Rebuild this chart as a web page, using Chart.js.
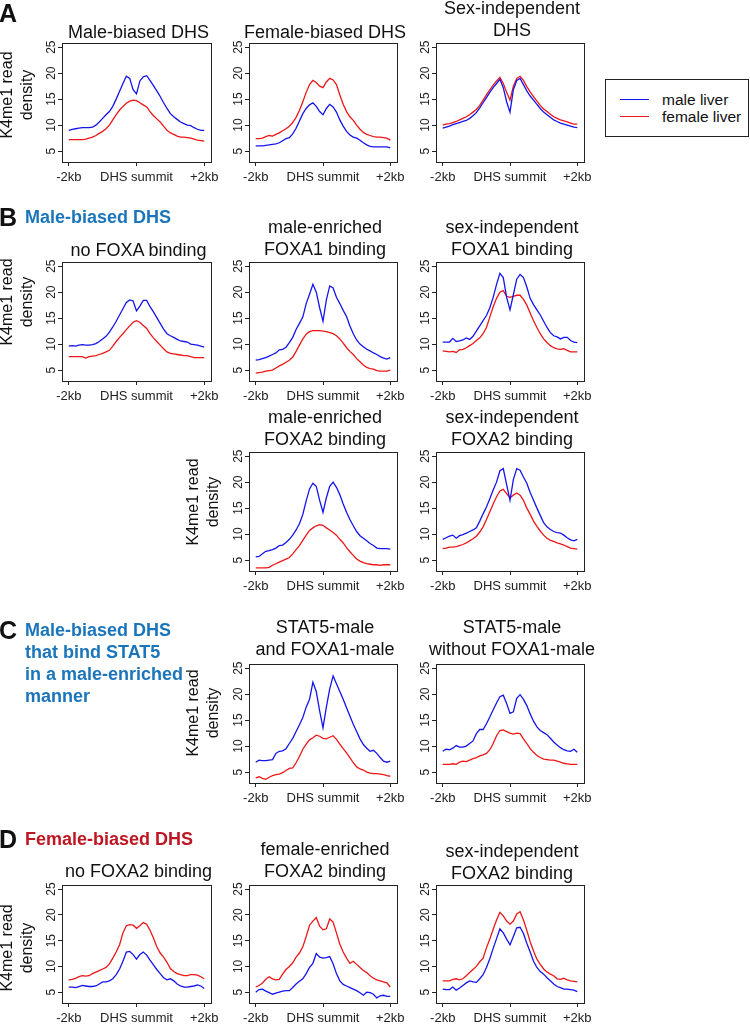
<!DOCTYPE html>
<html>
<head>
<meta charset="utf-8">
<title>K4me1 read density around DHS summits</title>
<script src="https://cdn.jsdelivr.net/npm/chart.js@4.4.1/dist/chart.umd.min.js"></script>
<style>
  html, body { margin: 0; padding: 0; background: #fff; overflow: hidden; }
  body { width: 750px; height: 1026px; position: relative; font-family: "Liberation Sans", Arial, sans-serif; color: #111; }
  .abs { position: absolute; white-space: nowrap; }
  .letter { font-weight: bold; font-size: 25px; line-height: 28px; }
  .head { font-weight: bold; font-size: 18px; line-height: 22px; }
  .ttl { font-size: 18px; line-height: 22px; text-align: center; }
  .ylab { font-size: 16px; line-height: 20px; text-align: center; transform: rotate(-90deg); }
  .legend { border: 1px solid #222; box-sizing: border-box; }
  .legtxt { font-size: 15.5px; line-height: 18px; }
  canvas { position: absolute; }
</style>
</head>
<body>
<script>
// bins around the DHS summit (bp)
const binPositions = [-2000, -1900, -1800, -1700, -1600, -1500, -1400, -1300, -1200, -1100,
  -1000, -900, -800, -700, -600, -500, -400, -300, -200, -100,
  0, 100, 200, 300, 400, 500, 600, 700, 800, 900,
  1000, 1100, 1200, 1300, 1400, 1500, 1600, 1700, 1800, 1900, 2000]
const xTickValues = [-2000, 0, 2000]
const xTickLabels = ["-2kb", "DHS summit", "+2kb"]
const yTickValues = [5, 10, 15, 20, 25]
const seriesNames = ["male liver", "female liver"]

// A: all DHS classes
const maleA1 = [9.0, 9.2, 9.3, 9.4, 9.5, 9.5, 9.5, 9.6, 10.0, 10.6, 11.3, 12.0, 12.6, 13.6, 15.0, 16.5, 18.0, 19.4, 19.0, 16.8, 16.0, 18.5, 19.3, 19.5, 18.6, 17.6, 16.6, 15.5, 14.3, 13.2, 12.2, 11.6, 11.1, 10.6, 10.3, 10.0, 9.9, 9.5, 9.2, 9.0, 9.0]
const femaleA1 = [7.2, 7.2, 7.2, 7.2, 7.2, 7.3, 7.5, 7.7, 8.0, 8.4, 8.8, 9.3, 10.0, 11.0, 12.0, 12.9, 13.6, 14.2, 14.6, 14.8, 14.7, 14.3, 13.9, 13.5, 12.6, 11.8, 11.2, 10.6, 9.8, 9.0, 8.5, 8.2, 7.9, 7.7, 7.7, 7.6, 7.5, 7.3, 7.1, 7.0, 6.9]
const maleA2 = [6.0, 6.0, 6.0, 6.1, 6.2, 6.3, 6.4, 6.6, 7.0, 7.4, 7.6, 8.3, 9.4, 10.8, 12.2, 13.2, 13.9, 14.3, 13.6, 12.6, 12.0, 13.2, 14.0, 13.5, 12.5, 11.0, 9.8, 8.8, 8.1, 7.7, 7.5, 7.1, 6.6, 6.2, 5.9, 5.8, 5.8, 5.8, 5.8, 5.8, 5.6]
const femaleA2 = [7.4, 7.4, 7.5, 7.8, 8.0, 7.9, 8.2, 8.5, 8.9, 9.3, 9.8, 10.5, 11.5, 12.8, 14.5, 16.3, 17.8, 18.6, 18.2, 17.5, 17.2, 18.3, 19.0, 18.7, 17.8, 15.8, 14.0, 12.6, 11.6, 10.9, 10.0, 9.2, 8.6, 8.2, 8.0, 7.8, 7.7, 7.7, 7.6, 7.5, 7.1]
const maleA3 = [9.4, 9.6, 9.8, 10.1, 10.3, 10.5, 10.7, 10.9, 11.3, 11.8, 12.4, 13.3, 14.3, 15.3, 16.3, 17.2, 18.0, 18.8, 17.2, 14.5, 12.5, 16.8, 18.6, 19.0, 17.8, 16.6, 15.6, 14.8, 14.0, 13.2, 12.5, 12.0, 11.5, 11.0, 10.7, 10.4, 10.2, 10.0, 9.8, 9.6, 9.5]
const femaleA3 = [10.0, 10.2, 10.3, 10.5, 10.7, 11.0, 11.3, 11.6, 12.0, 12.5, 13.0, 13.8, 14.8, 15.8, 16.8, 17.7, 18.5, 19.2, 18.0, 16.3, 14.8, 17.5, 19.0, 19.4, 18.6, 17.4, 16.4, 15.5, 14.6, 13.8, 13.1, 12.6, 12.1, 11.6, 11.3, 11.0, 10.8, 10.6, 10.4, 10.2, 10.2]

// B: male-biased DHS, FOXA1 / FOXA2 binding
const maleB1 = [9.6, 9.7, 9.6, 9.8, 9.9, 9.8, 9.8, 9.9, 10.1, 10.5, 11.0, 11.5, 12.3, 13.3, 14.4, 15.6, 16.8, 18.0, 18.5, 18.3, 16.4, 17.3, 18.4, 18.4, 17.2, 16.2, 15.1, 14.0, 12.9, 12.0, 11.6, 11.3, 10.9, 10.6, 10.5, 10.4, 10.0, 9.9, 9.8, 9.6, 9.4]
const femaleB1 = [7.6, 7.6, 7.6, 7.6, 7.6, 7.3, 7.6, 7.7, 7.8, 8.0, 8.2, 8.5, 8.8, 9.6, 10.5, 11.3, 12.0, 12.8, 13.5, 14.2, 14.5, 14.2, 13.6, 13.0, 12.0, 11.2, 10.5, 9.8, 9.1, 8.5, 8.2, 8.1, 8.0, 7.9, 7.8, 7.8, 7.6, 7.4, 7.4, 7.4, 7.4]
const maleB2 = [6.9, 7.0, 7.2, 7.4, 7.7, 8.0, 8.3, 8.9, 9.0, 9.4, 10.3, 11.3, 12.8, 14.0, 15.2, 17.8, 19.6, 21.5, 20.0, 17.0, 14.4, 18.5, 21.2, 20.8, 19.0, 17.8, 16.5, 15.3, 13.5, 12.0, 10.8, 10.0, 9.5, 9.0, 8.7, 8.3, 8.0, 7.6, 7.3, 7.1, 7.4]
const femaleB2 = [4.4, 4.5, 4.6, 4.8, 4.9, 5.0, 5.4, 5.8, 6.1, 6.5, 6.9, 7.5, 8.6, 9.8, 11.0, 11.9, 12.4, 12.6, 12.6, 12.6, 12.5, 12.4, 12.2, 12.0, 11.6, 11.0, 10.2, 9.3, 8.6, 8.0, 7.2, 6.6, 6.0, 5.5, 5.3, 5.2, 4.9, 4.8, 4.8, 4.8, 5.0]
const maleB3 = [10.4, 10.4, 10.4, 11.1, 10.5, 10.6, 10.8, 11.2, 10.9, 11.5, 12.5, 13.5, 14.5, 15.5, 17.0, 19.0, 21.5, 23.6, 22.8, 19.0, 16.6, 19.5, 22.5, 23.4, 22.8, 21.0, 18.8, 17.6, 16.6, 15.6, 14.4, 13.2, 12.2, 11.6, 11.4, 11.0, 11.3, 11.3, 10.7, 10.4, 10.3]
const femaleB3 = [8.7, 8.6, 8.5, 8.6, 8.4, 8.9, 9.0, 9.3, 9.7, 10.1, 10.7, 11.2, 12.0, 13.2, 15.2, 17.2, 18.8, 20.0, 20.3, 19.2, 19.0, 19.2, 19.4, 19.4, 18.6, 17.5, 16.0, 14.5, 13.2, 12.0, 11.0, 10.3, 9.7, 9.3, 9.1, 9.0, 9.1, 8.8, 8.5, 8.5, 8.5]
const maleB4 = [5.6, 5.7, 6.2, 6.7, 6.8, 7.0, 7.3, 7.8, 7.9, 8.4, 9.0, 9.8, 10.8, 12.0, 13.8, 16.4, 18.7, 19.8, 19.2, 16.5, 14.2, 17.0, 19.2, 20.0, 19.0, 17.6, 15.8, 14.2, 12.8, 11.6, 10.5, 9.7, 9.2, 8.7, 8.2, 7.8, 7.3, 7.2, 7.2, 7.2, 7.1]
const femaleB4 = [3.5, 3.5, 3.5, 3.5, 3.6, 4.0, 4.3, 4.6, 4.9, 5.2, 5.5, 6.2, 7.0, 7.8, 8.8, 9.8, 10.7, 11.2, 11.6, 11.8, 11.7, 11.2, 10.8, 10.3, 9.8, 9.0, 8.3, 7.4, 6.6, 5.9, 5.2, 4.8, 4.5, 4.3, 4.2, 4.1, 4.1, 4.0, 4.1, 4.1, 4.1]
const maleB5 = [9.0, 9.3, 9.6, 9.8, 9.2, 9.7, 9.9, 10.2, 10.5, 10.8, 11.2, 12.5, 13.9, 15.2, 16.8, 18.5, 20.0, 22.2, 22.6, 19.5, 16.5, 20.5, 22.6, 22.3, 21.0, 19.8, 18.0, 16.5, 15.0, 13.6, 12.2, 11.4, 10.9, 10.5, 10.3, 10.2, 9.8, 9.3, 8.9, 8.7, 9.0]
const femaleB5 = [7.2, 7.3, 7.5, 7.5, 7.6, 7.8, 8.0, 8.3, 8.7, 9.1, 9.6, 10.4, 11.4, 12.8, 14.3, 15.8, 17.2, 18.3, 18.6, 17.8, 17.0, 17.5, 17.9, 17.5, 16.5, 15.0, 13.8, 12.5, 11.5, 10.6, 9.8, 9.2, 8.8, 8.6, 8.3, 8.1, 7.9, 7.6, 7.3, 7.2, 7.1]

// C: male-biased DHS binding STAT5 in a male-enriched manner
const maleC1 = [6.9, 7.3, 7.2, 7.2, 7.3, 7.4, 8.6, 9.0, 9.1, 9.5, 10.5, 11.5, 12.8, 14.1, 15.5, 17.5, 19.0, 22.3, 20.5, 16.8, 13.5, 17.5, 21.0, 23.5, 22.0, 20.5, 19.0, 17.4, 15.8, 14.2, 12.8, 11.4, 10.3, 9.6, 9.0, 9.2, 8.6, 7.8, 7.1, 6.9, 7.1]
const femaleC1 = [3.9, 4.1, 3.8, 3.6, 4.0, 4.3, 4.5, 4.6, 4.9, 5.3, 5.7, 5.8, 6.8, 8.0, 9.4, 10.4, 11.2, 11.6, 12.1, 11.9, 11.5, 11.4, 11.7, 12.0, 11.3, 10.4, 9.5, 8.7, 7.8, 6.8, 6.0, 5.6, 5.4, 5.0, 4.8, 4.7, 4.7, 4.6, 4.5, 4.3, 4.2]
const maleC2 = [9.0, 9.4, 9.3, 9.6, 10.1, 9.8, 9.8, 10.0, 10.5, 11.0, 12.4, 13.2, 13.2, 14.3, 15.6, 17.0, 18.3, 19.5, 19.8, 18.2, 16.3, 16.6, 19.2, 19.9, 19.0, 17.8, 16.2, 14.8, 13.7, 13.0, 12.6, 12.2, 11.5, 10.8, 10.2, 9.7, 9.3, 9.1, 9.0, 9.4, 8.8]
const femaleC2 = [6.5, 6.5, 6.5, 6.6, 6.5, 6.9, 7.1, 7.0, 7.3, 7.6, 7.8, 8.1, 8.3, 8.6, 9.3, 10.5, 12.0, 13.0, 13.1, 12.8, 12.5, 12.3, 12.5, 12.4, 11.4, 10.5, 9.5, 8.8, 8.2, 7.8, 7.5, 7.4, 7.3, 7.3, 7.1, 6.9, 6.7, 6.6, 6.5, 6.5, 6.5]

// D: female-biased DHS, FOXA2 binding
const maleD1 = [6.0, 6.0, 5.9, 6.1, 6.3, 6.2, 6.1, 6.1, 6.2, 6.6, 7.0, 7.0, 7.2, 7.6, 8.4, 9.5, 11.0, 12.8, 12.9, 12.3, 11.4, 12.3, 12.8, 12.2, 11.2, 10.3, 9.4, 8.6, 7.8, 7.4, 7.6, 7.2, 6.6, 6.2, 6.0, 6.0, 6.1, 6.2, 6.4, 6.2, 5.7]
const femaleD1 = [7.4, 7.5, 7.7, 8.0, 8.2, 8.1, 8.2, 8.6, 8.9, 9.2, 9.5, 9.8, 10.5, 11.6, 12.8, 14.2, 16.5, 17.9, 18.1, 18.0, 17.4, 17.9, 18.5, 18.2, 17.0, 15.5, 13.8, 12.6, 11.8, 10.8, 9.6, 9.0, 8.6, 8.4, 8.2, 8.2, 8.4, 8.4, 8.3, 8.0, 7.6]
const maleD2 = [5.0, 5.5, 5.6, 5.2, 4.9, 4.6, 4.8, 5.0, 5.2, 5.3, 5.3, 5.9, 6.6, 7.1, 7.6, 8.6, 9.8, 10.6, 12.5, 11.8, 11.6, 11.7, 11.9, 10.5, 8.6, 7.2, 6.5, 6.2, 5.9, 5.6, 5.3, 4.9, 4.4, 5.0, 4.9, 4.6, 3.9, 4.3, 4.4, 4.2, 4.2]
const femaleD2 = [6.0, 6.3, 6.8, 7.5, 8.0, 7.6, 7.4, 7.5, 8.5, 9.4, 10.0, 10.7, 11.8, 12.6, 13.8, 15.8, 18.0, 18.8, 19.5, 17.8, 17.1, 17.3, 19.2, 18.6, 16.5, 14.3, 12.8, 11.6, 10.6, 11.0, 10.4, 9.8, 9.2, 8.8, 8.2, 7.7, 7.4, 7.2, 7.0, 6.8, 6.0]
const maleD3 = [5.6, 5.5, 5.5, 6.0, 5.4, 5.8, 6.3, 6.8, 7.2, 7.0, 6.9, 7.6, 8.4, 9.8, 11.5, 13.5, 15.4, 17.3, 16.5, 15.3, 14.2, 15.8, 17.5, 17.6, 16.4, 14.5, 12.8, 11.0, 9.8, 9.0, 8.5, 7.8, 7.2, 6.6, 6.1, 5.9, 5.6, 5.6, 5.5, 5.4, 5.1]
const femaleD3 = [7.2, 7.2, 7.2, 7.5, 7.6, 7.4, 7.6, 8.2, 8.8, 9.4, 10.0, 10.9, 11.6, 13.6, 15.3, 17.2, 19.0, 20.5, 19.8, 18.8, 18.2, 18.8, 20.2, 20.6, 19.0, 17.0, 14.8, 13.0, 11.4, 10.4, 9.5, 8.9, 8.5, 8.2, 7.6, 7.5, 7.7, 7.4, 7.2, 7.1, 7.0]

// page layout (pixels)
const colLeft = [62, 249, 436]
const colRight = [211, 397, 584]
const AXIS_W = 30
const AXIS_H = 24
const PAD_T = 14
const PAD_R = 16
const MALE_COLOR = "#1414ee"
const FEMALE_COLOR = "#ee1616"

const panels = [
  { male: maleA1, female: femaleA1, title: ["Male-biased DHS"], col: 0, top: 43, bottom: 162, titleY: 32 },
  { male: maleA2, female: femaleA2, title: ["Female-biased DHS"], col: 1, top: 43, bottom: 162, titleY: 32 },
  { male: maleA3, female: femaleA3, title: ["Sex-independent", "DHS"], col: 2, top: 43, bottom: 162, titleY: 8 },
  { male: maleB1, female: femaleB1, title: ["no FOXA binding"], col: 0, top: 262, bottom: 381, titleY: 250 },
  { male: maleB2, female: femaleB2, title: ["male-enriched", "FOXA1 binding"], col: 1, top: 262, bottom: 381, titleY: 227 },
  { male: maleB3, female: femaleB3, title: ["sex-independent", "FOXA1 binding"], col: 2, top: 262, bottom: 381, titleY: 227 },
  { male: maleB4, female: femaleB4, title: ["male-enriched", "FOXA2 binding"], col: 1, top: 452, bottom: 571, titleY: 417 },
  { male: maleB5, female: femaleB5, title: ["sex-independent", "FOXA2 binding"], col: 2, top: 452, bottom: 571, titleY: 417 },
  { male: maleC1, female: femaleC1, title: ["STAT5-male", "and FOXA1-male"], col: 1, top: 664, bottom: 783, titleY: 627 },
  { male: maleC2, female: femaleC2, title: ["STAT5-male", "without FOXA1-male"], col: 2, top: 664, bottom: 783, titleY: 627 },
  { male: maleD1, female: femaleD1, title: ["no FOXA2 binding"], col: 0, top: 885, bottom: 1003, titleY: 871 },
  { male: maleD2, female: femaleD2, title: ["female-enriched", "FOXA2 binding"], col: 1, top: 885, bottom: 1003, titleY: 849 },
  { male: maleD3, female: femaleD3, title: ["sex-independent", "FOXA2 binding"], col: 2, top: 885, bottom: 1003, titleY: 851 },
]

// y-axis titles: [center x, center y]
const yTitles = [[17, 95], [17, 302], [203, 502], [203, 713], [17, 948]]

function addText(cls, text, left, top, style) {
  const el = document.createElement("div")
  el.className = "abs " + cls
  el.innerHTML = text
  el.style.left = left + "px"
  el.style.top = top + "px"
  if (style) Object.assign(el.style, style)
  document.body.appendChild(el)
  return el
}

// closed box around the plot region, like R's bty="o"
const boxFrame = {
  id: "boxFrame",
  afterDraw(chart) {
    const { ctx, chartArea: a } = chart
    ctx.save()
    ctx.strokeStyle = "#222"
    ctx.lineWidth = 1
    ctx.strokeRect(Math.round(a.left) + 0.5, Math.round(a.top) + 0.5, Math.round(a.right - a.left), Math.round(a.bottom - a.top))
    ctx.restore()
  },
}

function toPoints(values) {
  return values.map((v, i) => ({ x: binPositions[i], y: v }))
}

function drawPanel(p) {
  const left = colLeft[p.col]
  const right = colRight[p.col]
  const canvas = document.createElement("canvas")
  canvas.width = AXIS_W + (right - left) + PAD_R
  canvas.height = PAD_T + (p.bottom - p.top) + AXIS_H
  canvas.style.left = left - AXIS_W + "px"
  canvas.style.top = p.top - PAD_T + "px"
  document.body.appendChild(canvas)

  // panel title, centred over the box
  const cx = (left + right) / 2 + 2
  addText("ttl", p.title.join("<br>"), cx - 100, p.titleY - 11, { width: "200px" })

  new Chart(canvas, {
    type: "line",
    data: {
      datasets: [
        { label: seriesNames[0], data: toPoints(p.male), borderColor: MALE_COLOR, borderWidth: 1.3, pointRadius: 0, tension: 0 },
        { label: seriesNames[1], data: toPoints(p.female), borderColor: FEMALE_COLOR, borderWidth: 1.3, pointRadius: 0, tension: 0 },
      ],
    },
    options: {
      responsive: false,
      animation: false,
      devicePixelRatio: 1,
      layout: { padding: { top: PAD_T, right: PAD_R, left: 0, bottom: 0 } },
      plugins: { legend: { display: false }, tooltip: { enabled: false }, title: { display: false } },
      scales: {
        x: {
          type: "linear",
          min: -2200,
          max: 2200,
          afterBuildTicks: (s) => { s.ticks = xTickValues.map((v) => ({ value: v })) },
          afterFit: (s) => { s.height = AXIS_H },
          border: { display: false },
          grid: { display: true, drawOnChartArea: false, drawTicks: true, tickLength: 4, color: "#222" },
          ticks: {
            autoSkip: false, maxRotation: 0, minRotation: 0, padding: 4, color: "#222",
            font: { family: "Liberation Sans", size: 13 },
            callback: (v) => xTickLabels[xTickValues.indexOf(v)],
          },
        },
        y: {
          min: 2.9,
          max: 25.8,
          afterBuildTicks: (s) => { s.ticks = yTickValues.map((v) => ({ value: v })) },
          afterFit: (s) => { s.width = AXIS_W },
          border: { display: false },
          grid: { display: true, drawOnChartArea: false, drawTicks: true, tickLength: 4, color: "#222" },
          ticks: {
            autoSkip: false, minRotation: 90, maxRotation: 90, crossAlign: "center", padding: 0, color: "#222",
            font: { family: "Liberation Sans", size: 12 },
          },
        },
      },
    },
    plugins: [boxFrame],
  })
}

panels.forEach(drawPanel)

// y-axis titles
yTitles.forEach(([x, y]) => {
  addText("ylab", "K4me1 read<br>density", x - 60, y - 20, { width: "120px", height: "40px" })
})

// panel letters and group headings
addText("letter", "A", -1, -1)
addText("letter", "B", -1, 203)
addText("letter", "C", -1, 616)
addText("letter", "D", -1, 825)
addText("head", "Male-biased DHS", 25, 206, { color: "#1a75bb" })
addText("head", "Male-biased DHS<br>that bind STAT5<br>in a male-enriched<br>manner", 25, 619, { color: "#1a75bb" })
addText("head", "Female-biased DHS", 25, 828, { color: "#be1622" })

// legend
addText("legend", "", 605, 79, { width: "144px", height: "58px" })
addText("", "", 620, 99, { width: "29px", height: "0", borderTop: "1.5px solid " + MALE_COLOR })
addText("", "", 620, 116, { width: "29px", height: "0", borderTop: "1.5px solid " + FEMALE_COLOR })
addText("legtxt", seriesNames[0], 662, 91)
addText("legtxt", seriesNames[1], 662, 108)
</script>
</body>
</html>
